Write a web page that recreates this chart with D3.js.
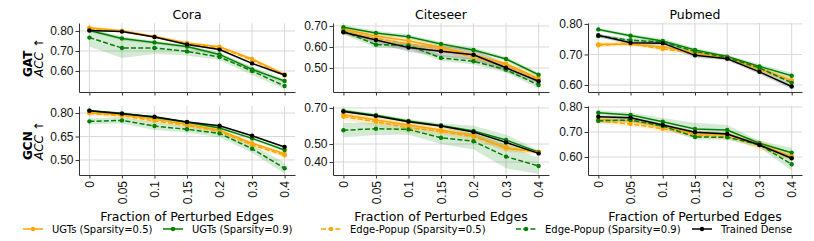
<!DOCTYPE html>
<meta charset="utf-8">
<style>
  body { margin: 0; background: #fff; }
  svg { font-family: "DejaVu Sans", sans-serif; }
  .grid line { stroke: #d8d8d8; stroke-width: 1; }
  .axis path, .axis line { stroke: #333; stroke-width: 1; }
  .axis text { fill: #111; font-size: 12px; }
</style>
<body>
<script src="https://cdn.jsdelivr.net/npm/d3@7"></script>
<script>

    var xLabels = ["0", "0.05", "0.1", "0.15", "0.2", "0.3", "0.4"];
    var datasets = ["Cora", "Citeseer", "Pubmed"];
    var models = ["GAT", "GCN"];
    var seriesNames = ["UGTs (Sparsity=0.5)", "UGTs (Sparsity=0.9)",
        "Edge-Popup (Sparsity=0.5)", "Edge-Popup (Sparsity=0.9)", "Trained Dense"];

    // rows in every table: UGT 0.5, UGT 0.9, EP 0.5, EP 0.9, Dense
    var gatCoraMean = [
        [0.816, 0.801, 0.773, 0.740, 0.721, 0.660, 0.583],
        [0.803, 0.763, 0.743, 0.722, 0.683, 0.608, 0.550],
        [0.810, 0.798, 0.770, 0.736, 0.716, 0.655, 0.578],
        [0.767, 0.715, 0.715, 0.698, 0.670, 0.600, 0.525],
        [0.803, 0.797, 0.770, 0.733, 0.707, 0.638, 0.580]];
    var gatCoraStd = [
        [0.008, 0.006, 0.006, 0.006, 0.006, 0.008, 0.008],
        [0.008, 0.010, 0.008, 0.008, 0.010, 0.012, 0.010],
        [0.006, 0.006, 0.006, 0.006, 0.006, 0.008, 0.008],
        [0.045, 0.050, 0.030, 0.020, 0.015, 0.020, 0.015],
        [0.004, 0.004, 0.004, 0.004, 0.004, 0.005, 0.005]];

    var gatCiteseerMean = [
        [0.684, 0.652, 0.630, 0.599, 0.562, 0.520, 0.451],
        [0.694, 0.667, 0.649, 0.614, 0.586, 0.543, 0.468],
        [0.677, 0.640, 0.615, 0.588, 0.552, 0.510, 0.445],
        [0.675, 0.611, 0.607, 0.548, 0.532, 0.492, 0.419],
        [0.670, 0.633, 0.597, 0.580, 0.563, 0.501, 0.437]];
    var gatCiteseerStd = [
        [0.012, 0.012, 0.012, 0.012, 0.012, 0.012, 0.010],
        [0.010, 0.010, 0.010, 0.010, 0.010, 0.010, 0.010],
        [0.015, 0.015, 0.015, 0.015, 0.015, 0.015, 0.012],
        [0.015, 0.015, 0.015, 0.015, 0.015, 0.015, 0.015],
        [0.010, 0.015, 0.020, 0.025, 0.025, 0.020, 0.010]];

    var gatPubmedMean = [
        [0.733, 0.733, 0.724, 0.707, 0.691, 0.654, 0.616],
        [0.782, 0.761, 0.744, 0.715, 0.693, 0.661, 0.630],
        [0.730, 0.735, 0.718, 0.704, 0.690, 0.650, 0.612],
        [0.760, 0.747, 0.740, 0.710, 0.690, 0.656, 0.607],
        [0.763, 0.738, 0.737, 0.697, 0.686, 0.643, 0.595]];
    var gatPubmedStd = [
        [0.008, 0.006, 0.006, 0.006, 0.005, 0.006, 0.008],
        [0.005, 0.006, 0.008, 0.006, 0.005, 0.008, 0.010],
        [0.006, 0.006, 0.006, 0.006, 0.006, 0.006, 0.006],
        [0.006, 0.006, 0.006, 0.006, 0.006, 0.006, 0.006],
        [0.005, 0.008, 0.008, 0.008, 0.005, 0.008, 0.008]];

    var gcnCoraMean = [
        [0.802, 0.789, 0.760, 0.728, 0.690, 0.607, 0.540],
        [0.815, 0.798, 0.772, 0.741, 0.704, 0.638, 0.564],
        [0.798, 0.782, 0.750, 0.720, 0.683, 0.596, 0.530],
        [0.747, 0.753, 0.717, 0.696, 0.670, 0.572, 0.447],
        [0.815, 0.796, 0.776, 0.743, 0.719, 0.655, 0.583]];
    var gcnCoraStd = [
        [0.010, 0.010, 0.010, 0.010, 0.010, 0.012, 0.012],
        [0.008, 0.008, 0.008, 0.008, 0.008, 0.010, 0.010],
        [0.015, 0.015, 0.015, 0.015, 0.015, 0.015, 0.015],
        [0.020, 0.020, 0.025, 0.020, 0.025, 0.025, 0.035],
        [0.005, 0.005, 0.005, 0.005, 0.005, 0.005, 0.005]];

    var gcnCiteseerMean = [
        [0.663, 0.633, 0.606, 0.578, 0.548, 0.476, 0.457],
        [0.685, 0.660, 0.628, 0.603, 0.572, 0.522, 0.455],
        [0.652, 0.624, 0.590, 0.570, 0.540, 0.482, 0.452],
        [0.576, 0.585, 0.581, 0.535, 0.515, 0.430, 0.378],
        [0.680, 0.656, 0.624, 0.600, 0.567, 0.509, 0.448]];
    var gcnCiteseerStd = [
        [0.015, 0.015, 0.015, 0.015, 0.015, 0.020, 0.010],
        [0.010, 0.010, 0.010, 0.012, 0.030, 0.030, 0.010],
        [0.020, 0.025, 0.030, 0.020, 0.020, 0.020, 0.010],
        [0.040, 0.035, 0.030, 0.035, 0.045, 0.065, 0.045],
        [0.005, 0.005, 0.005, 0.005, 0.005, 0.005, 0.005]];

    var gcnPubmedMean = [
        [0.750, 0.745, 0.722, 0.693, 0.690, 0.648, 0.602],
        [0.777, 0.768, 0.741, 0.712, 0.708, 0.655, 0.617],
        [0.744, 0.732, 0.713, 0.688, 0.681, 0.649, 0.601],
        [0.745, 0.748, 0.724, 0.680, 0.679, 0.649, 0.571],
        [0.761, 0.757, 0.728, 0.699, 0.692, 0.648, 0.595]];
    var gcnPubmedStd = [
        [0.010, 0.010, 0.010, 0.008, 0.008, 0.020, 0.015],
        [0.010, 0.010, 0.015, 0.025, 0.020, 0.010, 0.020],
        [0.010, 0.010, 0.010, 0.010, 0.010, 0.015, 0.012],
        [0.010, 0.010, 0.010, 0.010, 0.010, 0.010, 0.025],
        [0.005, 0.005, 0.005, 0.005, 0.005, 0.005, 0.005]];

    // y axis limits and ticks per row, per dataset
    var gatDomains = [[0.495, 0.84], [0.386, 0.714], [0.577, 0.803]];
    var gcnDomains = [[0.404, 0.845], [0.328, 0.711], [0.528, 0.804]];
    var gatTicks = [[0.6, 0.7, 0.8], [0.5, 0.6, 0.7], [0.6, 0.7, 0.8]];
    var gcnTicks = [[0.5, 0.65, 0.8], [0.4, 0.5, 0.7], [0.6, 0.7, 0.8]];

    var colors = ["orange", "green", "orange", "green", "black"];
    var dashed = [false, false, true, true, false];

    var tables = {
        GAT: [[gatCoraMean, gatCoraStd], [gatCiteseerMean, gatCiteseerStd], [gatPubmedMean, gatPubmedStd]],
        GCN: [[gcnCoraMean, gcnCoraStd], [gcnCiteseerMean, gcnCiteseerStd], [gcnPubmedMean, gcnPubmedStd]]
    };
    var domains = {GAT: gatDomains, GCN: gcnDomains};
    var ticks = {GAT: gatTicks, GCN: gcnTicks};

    var colX = [[79, 295], [333, 549], [588, 802]];
    var rowY = [[23, 92], [106, 175]];

    var svg = d3.select("body").append("svg")
            .attr("width", 814)
            .attr("height", 241);

    models.forEach(function (model, r) {
        datasets.forEach(function (ds, c) {
            var x = d3.scalePoint()
                    .domain(xLabels)
                    .range(colX[c])
                    .padding(0.32);
            var y = d3.scaleLinear()
                    .domain(domains[model][c])
                    .range([rowY[r][1], rowY[r][0]]);
            var g = svg.append("g");

            // grid
            var grid = g.append("g").attr("class", "grid");
            grid.selectAll("line.v").data(xLabels).enter().append("line")
                    .attr("x1", function (d) { return x(d); })
                    .attr("x2", function (d) { return x(d); })
                    .attr("y1", rowY[r][0]).attr("y2", rowY[r][1]);
            grid.selectAll("line.h").data(ticks[model][c]).enter().append("line")
                    .attr("x1", colX[c][0]).attr("x2", colX[c][1])
                    .attr("y1", function (d) { return y(d); })
                    .attr("y2", function (d) { return y(d); });

            var mean = tables[model][c][0], std = tables[model][c][1];

            var area = d3.area()
                    .x(function (d, i) { return x(xLabels[i]); })
                    .y0(function (d) { return y(d[0] - d[1]); })
                    .y1(function (d) { return y(d[0] + d[1]); });
            var line = d3.line()
                    .x(function (d, i) { return x(xLabels[i]); })
                    .y(function (d) { return y(d); });

            mean.forEach(function (m, s) {
                var pts = m.map(function (v, i) { return [v, std[s][i]]; });
                g.append("path")
                        .attr("d", area(pts))
                        .attr("fill", colors[s])
                        .attr("fill-opacity", 0.17);
            });
            mean.forEach(function (m, s) {
                g.append("path")
                        .attr("d", line(m))
                        .attr("fill", "none")
                        .attr("stroke", colors[s])
                        .attr("stroke-width", 1.5)
                        .attr("stroke-dasharray", dashed[s] ? "5,2.2" : null);
                g.selectAll(null).data(m).enter().append("circle")
                        .attr("cx", function (d, i) { return x(xLabels[i]); })
                        .attr("cy", function (d) { return y(d); })
                        .attr("r", 2.2)
                        .attr("fill", colors[s]);
            });

            // axes
            g.append("g").attr("class", "axis")
                    .attr("transform", "translate(" + colX[c][0] + ",0)")
                    .call(d3.axisLeft(y).tickValues(ticks[model][c])
                            .tickFormat(d3.format(".2f"))
                            .tickSize(3.5).tickSizeOuter(0).tickPadding(2));
            var xa = g.append("g").attr("class", "axis")
                    .attr("transform", "translate(0," + rowY[r][1] + ")")
                    .call(d3.axisBottom(x).tickSize(3.5).tickSizeOuter(0));
            if (r === 0) {
                xa.selectAll("text").remove();
            } else {
                xa.selectAll("text")
                        .attr("x", -6)
                        .attr("y", 0)
                        .attr("dy", "0.35em")
                        .attr("transform", "rotate(-90)")
                        .style("text-anchor", "end");
                svg.append("text")
                        .attr("x", (colX[c][0] + colX[c][1]) / 2)
                        .attr("y", 221)
                        .attr("text-anchor", "middle")
                        .style("font-size", "12.5px")
                        .text("Fraction of Perturbed Edges");
            }
            if (r === 0) {
                svg.append("text")
                        .attr("x", (colX[c][0] + colX[c][1]) / 2)
                        .attr("y", 19)
                        .attr("text-anchor", "middle")
                        .style("font-size", "12.5px")
                        .text(ds);
            }
        });

        // row label: bold model name + ACC arrow, lines aligned at the bottom
        var yb = (rowY[r][0] + rowY[r][1]) / 2 + 19.5;
        svg.append("text")
                .attr("transform", "translate(32," + yb + ") rotate(-90)")
                .style("font-size", "12px")
                .style("font-weight", "bold")
                .text(model);
        svg.append("text")
                .attr("transform", "translate(43," + yb + ") rotate(-90)")
                .style("font-size", "12px")
                .style("font-style", "italic")
                .text("ACC \u2191");
    });

    // legend
    var legendX = [52, 192, 350, 545, 721];
    var lg = svg.append("g");
    seriesNames.forEach(function (name, s) {
        var tx = legendX[s];
        lg.append("line")
                .attr("x1", tx - 29).attr("x2", tx - 9)
                .attr("y1", 229).attr("y2", 229)
                .attr("stroke", colors[s])
                .attr("stroke-width", 1.5)
                .attr("stroke-dasharray", dashed[s] ? "5,2.2" : null);
        lg.append("circle")
                .attr("cx", tx - 19).attr("cy", 229).attr("r", 2.2)
                .attr("fill", colors[s]);
        lg.append("text")
                .attr("x", tx).attr("y", 232.5)
                .style("font-size", "10px")
                .text(name);
    });
</script>
</body>
